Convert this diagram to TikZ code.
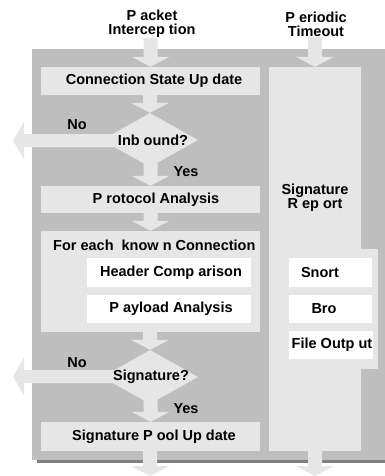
\documentclass[tikz,border=0pt]{standalone}
\usepackage{fontspec}
\setmainfont{Liberation Sans}
\usetikzlibrary{shapes.geometric,calc}

\definecolor{panelgray}{HTML}{BEBEBE}
\definecolor{flowgray}{HTML}{E6E6E6}
\definecolor{shadowgray}{HTML}{7F7F7F}

\tikzset{
  lbl/.style={font=\fontsize{14.5}{14}\selectfont\bfseries, inner sep=0pt, align=center},
  stagebox/.style={fill=flowgray, inner sep=0pt, minimum width=219pt},
  whitebox/.style={fill=white, inner sep=0pt},
  colbox/.style={fill=flowgray, inner sep=0pt},
  decision/.style={diamond, fill=flowgray, inner sep=0pt, minimum width=96pt, minimum height=54pt},
}

% broad downward arrow from the first point to the tip at the second
\newcommand\fatdown[2]{%
  \fill[flowgray] let \p1=(#1), \p2=(#2) in
    (\x2-7pt,\y1) -- (\x2+7pt,\y1) -- (\x2+7pt,\y2+10pt) -- (\x2+19pt,\y2+10pt)
    -- (\x2,\y2) -- (\x2-19pt,\y2+10pt) -- (\x2-7pt,\y2+10pt) -- cycle;}

% broad leftward arrow from the first point to the tip at the second
\newcommand\fatleft[2]{%
  \fill[flowgray] let \p1=(#1), \p2=(#2) in
    (\x1,\y2+6.5pt) -- (\x2+11pt,\y2+6.5pt) -- (\x2+11pt,\y2+19pt) -- (\x2,\y2)
    -- (\x2+11pt,\y2-19pt) -- (\x2+11pt,\y2-6.5pt) -- (\x1,\y2-6.5pt) -- cycle;}

\begin{document}
\begin{tikzpicture}[x=1pt,y=-1pt]
\useasboundingbox (0,0) rectangle (385,476);

% background panel with its drop shadow
\fill[shadowgray] (37,52) rectangle (395,463);
\fill[panelgray] (32,49) rectangle (395,460);

% right column (signature report)
\node[colbox, minimum width=92pt, minimum height=384pt] (rc) at (315,259) {};
\node[colbox, minimum width=109pt, minimum height=120pt] (rcw) at (323.5,309) {};

% left column stages
\node[stagebox, minimum height=28pt] (csu) at (150.5,81) {};
\node[decision] (inb) at (150,140) {};
\node[stagebox, minimum height=27pt] (pa) at (150.5,199.5) {};
\node[stagebox, minimum height=101pt] (fe) at (150.5,281.5) {};
\node[whitebox, minimum width=164pt, minimum height=29pt] (hc) at (169,272.5) {};
\node[whitebox, minimum width=164pt, minimum height=28pt] (pl) at (169,309) {};
\node[decision] (sig) at (150,377) {};
\node[stagebox, minimum height=29pt] (spu) at (150.5,436.5) {};

% output boxes in the right column
\node[whitebox, minimum width=83pt, minimum height=29pt] (snort) at (330.5,272.5) {};
\node[whitebox, minimum width=83pt, minimum height=28pt] (bro) at (330.5,309) {};
\node[whitebox, minimum width=84pt, minimum height=28pt] (fo) at (331,345) {};

% event labels above the panel
\node[lbl] (pkt) at (152,24) {P acket\\Intercep tion};
\node[lbl] (per) at (316,24) {P eriodic\\Timeout};

% free ends of the flow
\coordinate (no1) at (13,140.5);
\coordinate (no2) at (13,376.5);
\coordinate (out1) at (150,476);
\coordinate (out2) at (315,476);

% flow arrows
\fatdown{pkt.south}{csu.north}
\fatdown{csu.south}{inb.north}
\fatdown{inb.center}{pa.north}
\fatdown{pa.south}{fe.north}
\fatdown{fe.south}{sig.north}
\fatdown{sig.center}{spu.north}
\fatdown{spu.south}{out1}
\fatdown{per.south}{rc.north}
\fatdown{rc.south}{out2}
\fatleft{inb.center}{no1}
\fatleft{sig.center}{no2}

% texts
\node[lbl] (csut) at (154,81) {Connection State Up date};
\node[lbl] (inbt) at (153,140) {Inb ound?};
\node[lbl] (no1t) at (77,125) {No};
\node[lbl] (yes1t) at (186,172) {Yes};
\node[lbl] (pat) at (156,199.5) {P rotocol Analysis};
\node[lbl, anchor=west] (fet) at (53,245) {For each \ know n Connection};
\node[lbl] (hct) at (171,272.5) {Header Comp arison};
\node[lbl] (plt) at (171,309) {P ayload Analysis};
\node[lbl] (sigt) at (151,377) {Signature?};
\node[lbl] (no2t) at (77,363) {No};
\node[lbl] (yes2t) at (186,409) {Yes};
\node[lbl] (sput) at (154,436.5) {Signature P ool Up date};
\node[lbl, font=\fontsize{14.5}{12.5}\selectfont\bfseries] (srt) at (315,198) {Signature\\ R ep ort};
\node[lbl] (snortt) at (320,272.5) {Snort};
\node[lbl] (brot) at (324,309) {Bro};
\node[lbl] (fot) at (332,345) {File Outp ut};
\end{tikzpicture}
\end{document}
